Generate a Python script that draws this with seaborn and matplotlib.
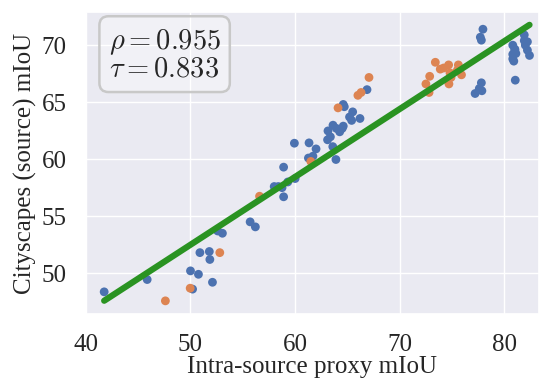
import numpy as np
import pandas as pd
import matplotlib
matplotlib.use("Agg")
import matplotlib.pyplot as plt
import seaborn as sns

# Values
blue_x = [41.75, 45.86, 50.0, 50.2, 50.76, 50.9, 51.8, 51.85, 52.1, 52.6,
          53.05, 55.7, 56.2, 58.0, 58.4, 58.75, 59.3, 58.9, 60.0, 58.9,
          59.93, 61.33, 62.0, 61.27, 61.7, 63.1, 63.6, 63.9, 63.14, 63.37,
          63.62, 63.94, 64.26, 64.5, 64.6, 65.2, 65.4, 65.5, 66.2, 64.6,
          64.7, 66.87, 77.8, 77.6, 77.2, 77.85, 81.04, 80.9, 81.0, 80.8,
          82.2, 77.95, 77.7, 77.8, 80.8, 81.0, 81.1, 80.8, 81.9, 82.0,
          82.2, 82.4, 81.9]
blue_y = [48.36, 49.44, 50.2, 48.6, 49.9, 51.8, 51.9, 51.2, 49.2, 53.7,
          53.5, 54.5, 54.06, 57.6, 57.6, 57.5, 58.0, 56.7, 58.3, 59.3,
          61.4, 61.43, 60.9, 60.1, 60.26, 61.7, 61.1, 59.97, 62.48, 61.96,
          62.98, 62.7, 62.4, 62.7, 62.9, 63.7, 63.4, 64.15, 63.57, 64.8,
          64.6, 66.1, 66.7, 66.2, 65.76, 66.0, 66.93, 68.6, 69.65, 69.2,
          70.3, 71.4, 70.7, 70.44, 70.0, 69.56, 69.27, 68.8, 70.9, 70.0,
          69.56, 69.1, 70.4]

orange_x = [47.6, 49.97, 52.8, 56.6, 61.5, 64.1, 66.0, 66.3, 67.06, 73.4,
            74.67, 75.6, 73.87, 72.86, 72.5, 72.8, 74.8, 74.9, 74.7, 75.9,
            74.2, 75.5]
orange_y = [47.57, 48.68, 51.8, 56.75, 59.8, 64.5, 65.6, 65.85, 67.17, 68.5,
            68.27, 68.27, 67.9, 67.27, 66.6, 65.85, 67.57, 67.17, 66.6, 67.4,
            68.0, 67.8]

rho = 0.955
tau = 0.833

df = pd.DataFrame({
    "proxy": blue_x + orange_x,
    "source": blue_y + orange_y,
    "group": ["a"] * len(blue_x) + ["b"] * len(orange_x),
})

sns.set_theme(style="darkgrid")
plt.rcParams["font.family"] = ["Liberation Serif", "DejaVu Serif"]
plt.rcParams["mathtext.fontset"] = "cm"

fig, ax = plt.subplots(figsize=(5.4, 3.79), dpi=100)
fig.subplots_adjust(left=0.159, right=0.998, top=0.968, bottom=0.171)

sns.scatterplot(data=df, x="proxy", y="source", hue="group",
                palette=["#4c72b0", "#dd8452"], s=40, linewidth=0,
                legend=False, ax=ax)

# linear fit over all points
sns.regplot(data=df, x="proxy", y="source", scatter=False, ci=None,
            truncate=True, color="#2a9322", line_kws={"lw": 4.5}, ax=ax)

ax.text(0.05, 0.95, r"$\rho = %.3f$" "\n" r"$\tau = %.3f$" % (rho, tau),
        transform=ax.transAxes, va="top", ha="left", fontsize=20.5,
        linespacing=1.05,
        bbox=dict(boxstyle="round,pad=0.32", fc=(1, 1, 1, 0.35),
                  ec="#c8c8c8", lw=1.8))

ax.set_xlim(40, 83.3)
ax.set_ylim(46.4, 72.9)
ax.set_xticks([40, 50, 60, 70, 80])
ax.set_yticks([50, 55, 60, 65, 70])
ax.tick_params(labelsize=18, pad=8)
ax.set_xlabel("Intra-source proxy mIoU", fontsize=18, labelpad=0)
ax.set_ylabel("Cityscapes (source) mIoU", fontsize=18, labelpad=3)

plt.savefig("out.png", dpi=100)
